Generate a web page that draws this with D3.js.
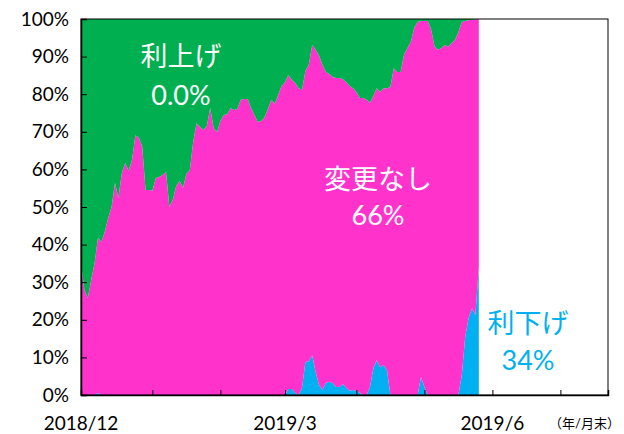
<!DOCTYPE html>
<html>
<head>
<meta charset="utf-8">
<script src="https://cdn.jsdelivr.net/npm/d3@7"></script>
<style>
  body { margin: 0; background: #fff; }
  text { font-family: Lato, "Noto Sans CJK JP", sans-serif; }
</style>
</head>
<body>
<div id="chart"></div>
<script>
// データ（営業日ごとの確率, %）
const hike = [
  64.9, 72.1, 74.2, 69.4, 64.9, 58.2, 59.3, 56.6, 52.9, 50.0,
  43.6, 47.6, 41.0, 38.3, 40.4, 37.5, 30.9, 31.6, 34.0, 45.5,
  45.5, 45.7, 42.3, 42.0, 41.5, 40.7, 50.0, 48.1, 44.4, 43.1,
  44.9, 41.2, 40.2, 32.7, 27.7, 28.7, 29.5, 28.5, 23.7, 29.0,
  30.1, 27.1, 25.5, 25.3, 23.7, 24.2, 23.9, 21.5, 21.3, 21.3,
  23.7, 25.5, 27.4, 27.1, 26.1, 23.9, 21.5, 22.6, 20.2, 17.8,
  16.8, 14.9, 16.2, 17.0, 18.4, 18.9, 13.8, 12.2, 6.9, 8.2,
  9.8, 12.2, 14.1, 14.6, 15.4, 15.7, 15.7, 16.0, 16.8, 17.8,
  18.4, 19.4, 21.0, 21.0, 21.5, 22.3, 20.5, 18.4, 19.4, 18.4,
  18.4, 18.1, 13.1, 14.1, 14.1, 9.6, 7.7, 6.1, 2.4, 0.8,
  0.5, 0.5, 0.5, 2.9, 7.4, 8.2, 7.7, 6.9, 7.4, 6.4,
  5.6, 3.5, 0.8, 0.5, 0.3, 0.2, 0.1, 0.0
];
const cut = [
  0, 0, 0, 0, 0, 0.5, 0, 0, 0, 0,
  0, 0, 0, 0, 0, 0, 0, 0, 0, 0,
  0, 0, 0, 0, 0, 0, 0, 0, 0, 0,
  0, 0, 0, 0, 0, 0, 0, 0, 0, 0,
  0, 0, 0, 0, 0, 0, 0, 0, 0, 0,
  0, 0, 0, 0, 0, 0, 0, 0, 0, 0,
  0, 1.6, 1.6, 0.5, 0, 1.9, 8.8, 9.0, 10.6, 6.1,
  2.7, 1.3, 3.2, 3.5, 3.2, 2.1, 2.1, 2.9, 1.9, 1.1,
  1.3, 1.1, 0.5, 0, 0, 2.1, 7.2, 9.3, 7.4, 8.0,
  6.6, 0, 0, 0, 0, 0, 0, 0, 0, 0,
  4.8, 2.1, 0, 0, 0, 0, 0, 0, 0, 0,
  0, 0, 5.3, 15.4, 20.5, 23.1, 21.3, 34.0
];
const monthEnds = [0, 21, 41, 60, 81, 101, 121, 141];
const monthLabels = ["2018/12", "", "", "2019/3", "", "", "2019/6", ""];
const yTicks = [0, 10, 20, 30, 40, 50, 60, 70, 80, 90, 100];

// 設定
const svgWidth = 624;
const svgHeight = 434;
const plot = { left: 81, right: 608, top: 19, bottom: 395 };

const colors = { cut: "#00b0f0", hold: "#ff33cc", hike: "#00b050" };

const svg = d3.select("#chart")
  .append("svg")
  .attr("width", svgWidth)
  .attr("height", svgHeight);

const x = d3.scaleLinear().domain([0, 155]).range([plot.left, plot.right]);
const y = d3.scaleLinear().domain([0, 100]).range([plot.bottom, plot.top]);

const rows = hike.map((h, i) => ({ i, cut: cut[i], hold: 100 - cut[i] - h, hike: h }));

const series = d3.stack().keys(["cut", "hold", "hike"])(rows);

const area = d3.area()
  .x(d => x(d.data.i))
  .y0(d => y(d[0]))
  .y1(d => y(d[1]));

svg.append("g")
  .selectAll("path")
  .data(series)
  .enter().append("path")
  .attr("d", area)
  .attr("fill", d => colors[d.key]);

// 枠
svg.append("rect")
  .attr("x", plot.left)
  .attr("y", plot.top)
  .attr("width", plot.right - plot.left)
  .attr("height", plot.bottom - plot.top)
  .attr("fill", "none")
  .attr("stroke", "#000")
  .attr("stroke-width", 1);

// 縦軸
const yAxis = svg.append("g")
  .attr("transform", `translate(${plot.left},0)`)
  .call(d3.axisRight(y).tickValues(yTicks).tickSize(6).tickFormat(""));
yAxis.select(".domain").attr("stroke", "#000").attr("stroke-width", 1.5);

svg.append("g")
  .selectAll("text")
  .data(yTicks)
  .enter().append("text")
  .attr("x", plot.left - 12)
  .attr("y", d => y(d))
  .attr("dy", "0.35em")
  .attr("text-anchor", "end")
  .attr("font-size", 19)
  .attr("fill", "#000")
  .text(d => d + "%");

// 横軸
const xAxis = svg.append("g")
  .attr("transform", `translate(0,${plot.bottom})`)
  .call(d3.axisTop(x).tickValues(monthEnds).tickSize(5).tickFormat(""));
xAxis.select(".domain").attr("stroke", "#000").attr("stroke-width", 1.5);

svg.append("g")
  .selectAll("text")
  .data(monthEnds)
  .enter().append("text")
  .attr("x", d => x(d))
  .attr("y", 430)
  .attr("text-anchor", "middle")
  .attr("font-size", 19)
  .attr("fill", "#000")
  .text((d, i) => monthLabels[i]);

svg.append("text")
  .attr("x", 620)
  .attr("y", 428)
  .attr("text-anchor", "end")
  .attr("font-size", 13)
  .attr("fill", "#000")
  .text("（年/月末）");

// ラベル
const labels = [
  { t: "利上げ", x: 181, y: 66, c: "#fff" },
  { t: "0.0%", x: 181, y: 105, c: "#fff" },
  { t: "変更なし", x: 378, y: 189, c: "#fff" },
  { t: "66%", x: 378, y: 225, c: "#fff" },
  { t: "利下げ", x: 528, y: 333, c: "#00b0f0" },
  { t: "34%", x: 528, y: 370, c: "#00b0f0" }
];

svg.append("g")
  .selectAll("text")
  .data(labels)
  .enter().append("text")
  .attr("x", d => d.x)
  .attr("y", d => d.y)
  .attr("text-anchor", "middle")
  .attr("font-size", 27)
  .attr("fill", d => d.c)
  .text(d => d.t);
</script>
</body>
</html>
